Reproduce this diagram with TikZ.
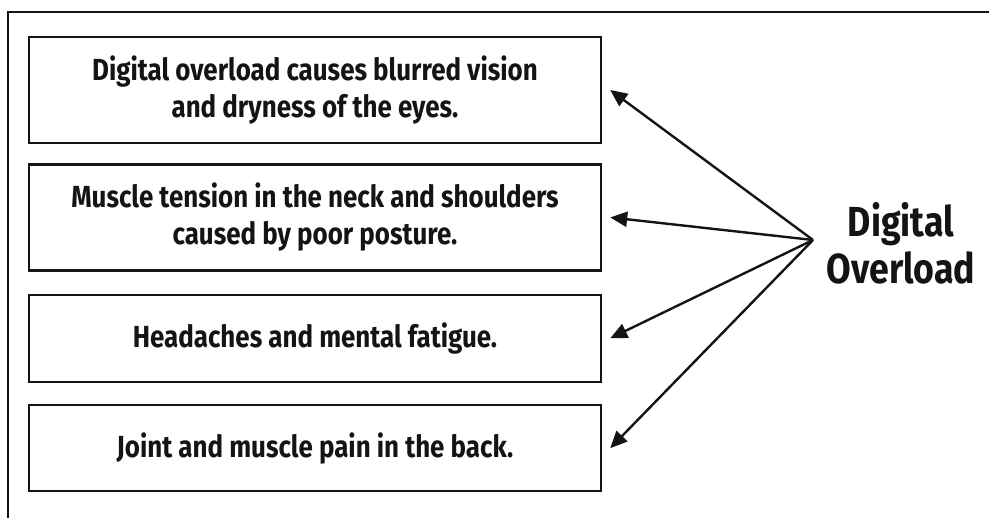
\documentclass[tikz,border=0pt]{standalone}
\usepackage{fontspec}
\setmainfont{Fira Sans}[FakeStretch=0.85]
\usetikzlibrary{arrows.meta,positioning}
\definecolor{inkblack}{RGB}{20,20,20}

\begin{document}
\begin{tikzpicture}[x=1pt, y=-1pt, line width=2.4pt, inkblack,
    every node/.style={text=inkblack},
    effectbox/.style={draw=inkblack, line width=2.4pt, minimum width=572pt,
      inner sep=0pt, align=center,
      font=\fontsize{30.5}{37}\selectfont\bfseries},
    causearrow/.style={-{Triangle[length=17pt,width=15pt]}, line width=2.4pt}]
  % --- page and outer frame ---
  \useasboundingbox (0,0) rectangle (989,518);
  \fill[white] (0,0) rectangle (989,518);
  \draw (8,518) -- (8,12) -- (989,12);
  % --- effect boxes ---
  \node[effectbox, minimum height=106pt] (eyes) at (315,90)
    {Digital overload causes blurred vision\\and dryness of the eyes.};
  \node[effectbox, minimum height=106pt, below=19pt of eyes] (neck)
    {Muscle tension in the neck and shoulders\\caused by poor posture.};
  \node[effectbox, minimum height=87pt, below=22pt of neck] (head)
    {Headaches and mental fatigue.};
  \node[effectbox, minimum height=86pt, below=21pt of head] (back)
    {Joint and muscle pain in the back.};
  % --- cause ---
  \coordinate (hub) at (813,240);
  \node[font=\fontsize{42}{47}\selectfont\bfseries, align=center] (overload)
    at (901,243) {Digital\\Overload};
  % --- arrows from the cause to each effect ---
  \foreach \effect in {eyes,neck,head,back}{
    \draw[causearrow] (hub) -- ([xshift=8pt]\effect.east);
  }
\end{tikzpicture}
\end{document}
